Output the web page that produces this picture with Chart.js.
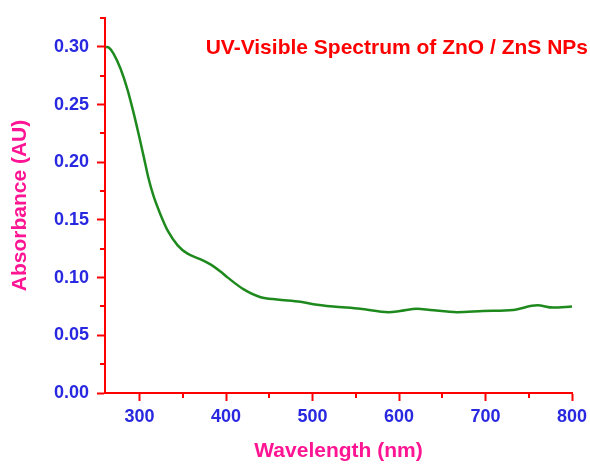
<!DOCTYPE html>
<html lang="en">
<head>
    <meta charset="UTF-8">
    <title>UV-Visible Spectrum</title>
    <script src="https://cdn.jsdelivr.net/npm/chart.js"></script>
    <style>
        body {
            margin: 0;
            background-color: #ffffff;
        }

        .chart-box {
            width: 590px;
            height: 464px;
        }
    </style>
</head>
<body>
    <div class="chart-box">
        <canvas id="spectrumChart"></canvas>
    </div>

    <script>
        // Wavelength (nm) and absorbance
        const wavelength = [261, 265, 270, 278, 286, 293, 299, 305, 310, 316, 324, 333, 344, 355, 370, 385, 394, 402, 420, 440,
            459, 486, 501, 524, 555, 588, 601, 621, 636, 667, 697, 732, 760, 778, 800];
        const absorbance = [0.300, 0.299, 0.294, 0.281, 0.263, 0.243, 0.224, 0.204, 0.187, 0.171, 0.155, 0.140, 0.128, 0.121, 0.116, 0.110, 0.105, 0.100, 0.090, 0.083,
            0.081, 0.079, 0.077, 0.075, 0.073, 0.070, 0.071, 0.073, 0.072, 0.070, 0.071, 0.072, 0.076, 0.074, 0.075];

        const xTicks = [300, 400, 500, 600, 700, 800];
        const yTicks = [0.00, 0.05, 0.10, 0.15, 0.20, 0.25, 0.30];
        const xMinor = [350, 450, 550, 650, 750];
        const yMinor = [0.025, 0.075, 0.125, 0.175, 0.225, 0.275, 0.325];

        const chartTitle = 'UV-Visible Spectrum of ZnO / ZnS NPs';

        const axisRed = '#ff0000';
        const tickBlue = '#2828e0';
        const titlePink = '#ff1493';
        const fontName = '"Liberation Sans", Arial, sans-serif';

        // small ticks between the labelled ones + title inside the plot
        const extrasPlugin = {
            id: 'extras',
            afterDraw(chart) {
                const ctx = chart.ctx;
                const xs = chart.scales.x;
                const ys = chart.scales.y;
                const area = chart.chartArea;
                ctx.save();
                ctx.strokeStyle = axisRed;
                ctx.lineWidth = 2;
                ctx.beginPath();
                xMinor.forEach(v => {
                    const px = Math.round(xs.getPixelForValue(v));
                    ctx.moveTo(px, area.bottom);
                    ctx.lineTo(px, area.bottom + 5);
                });
                yMinor.forEach(v => {
                    const py = Math.round(ys.getPixelForValue(v));
                    ctx.moveTo(area.left, py);
                    ctx.lineTo(area.left - 5, py);
                });
                ctx.stroke();

                ctx.fillStyle = axisRed;
                ctx.font = 'bold 21px ' + fontName;
                ctx.textAlign = 'right';
                ctx.textBaseline = 'alphabetic';
                ctx.fillText(chartTitle, 588, 54);
                ctx.restore();
            }
        };

        const ctx = document.getElementById('spectrumChart').getContext('2d');
        const spectrumChart = new Chart(ctx, {
            type: 'line',
            data: {
                datasets: [{
                    data: wavelength.map((w, i) => ({ x: w, y: absorbance[i] })),
                    borderColor: '#1e8a1e',
                    borderWidth: 2.5,
                    pointRadius: 0,
                    fill: false,
                    cubicInterpolationMode: 'monotone'
                }]
            },
            options: {
                responsive: true,
                maintainAspectRatio: false,
                animation: false,
                layout: {
                    padding: { top: 18, right: 18, left: 0, bottom: 0 }
                },
                plugins: {
                    legend: { display: false },
                    tooltip: { enabled: false }
                },
                scales: {
                    x: {
                        type: 'linear',
                        min: 260,
                        max: 800,
                        afterBuildTicks: s => { s.ticks = xTicks.map(v => ({ value: v })); },
                        afterFit: s => {
                            s.height = 71;
                            s.paddingLeft = 0;
                            s.paddingRight = 0;
                        },
                        border: { color: axisRed, width: 2 },
                        grid: { drawOnChartArea: false, tickLength: 8, tickColor: axisRed, tickWidth: 2 },
                        ticks: {
                            color: tickBlue,
                            padding: 5,
                            font: { family: fontName, size: 18, weight: 'bold' }
                        },
                        title: {
                            display: true,
                            text: 'Wavelength (nm)',
                            color: titlePink,
                            padding: 0,
                            font: { family: fontName, size: 21, weight: 'bold' }
                        }
                    },
                    y: {
                        min: 0,
                        max: 0.325,
                        afterBuildTicks: s => { s.ticks = yTicks.map(v => ({ value: v })); },
                        afterFit: s => {
                            s.width = 105;
                            s.paddingTop = 0;
                            s.paddingBottom = 0;
                        },
                        border: { color: axisRed, width: 2 },
                        grid: { drawOnChartArea: false, tickLength: 8, tickColor: axisRed, tickWidth: 2 },
                        ticks: {
                            color: tickBlue,
                            padding: 8,
                            callback: v => v.toFixed(2),
                            font: { family: fontName, size: 18, weight: 'bold' }
                        },
                        title: {
                            display: true,
                            text: 'Absorbance (AU)',
                            color: titlePink,
                            padding: { top: 8, bottom: 0 },
                            font: { family: fontName, size: 21, weight: 'bold' }
                        }
                    }
                }
            },
            plugins: [extrasPlugin]
        });
    </script>
</body>
</html>
